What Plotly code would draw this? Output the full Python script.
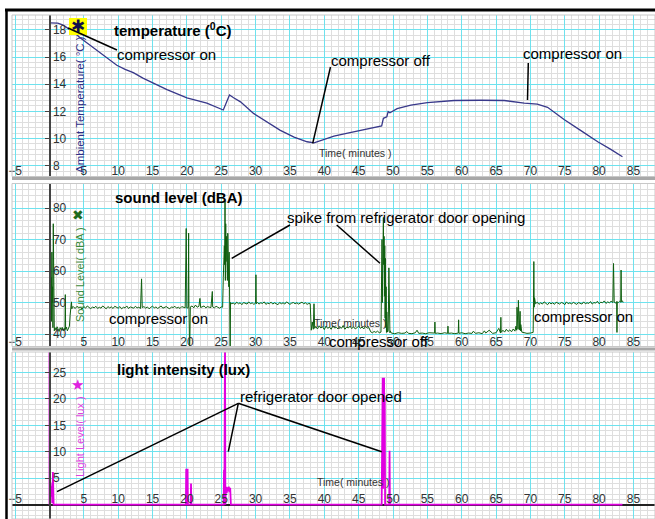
import plotly.graph_objects as go

W, H = 655, 519

# ---------------- data ----------------
temp_time = [0, 1.2, 2.0, 2.8, 3.6, 4.5, 6, 7.4, 8.6, 9.8,
             11, 12.2, 13.6, 15.1, 17.1, 20.0, 22.9, 25.3, 26.2, 26.8,
             27.8, 29.7, 31.7, 33.6, 35.6, 37.5, 38.5, 39.4, 41.4, 43.4,
             45.3, 47, 48.35, 48.6, 49.1, 49.3, 49.55, 50.6, 52.6, 55.0,
             58.9, 62.8, 66.2, 69.1, 71.0, 72.5, 74.9, 77.3, 79.8, 81.7,
             83.4]
temp_value = [18.52, 18.5, 18.35, 18.1, 17.8, 17.4, 16.85, 16.3, 15.85, 15.4,
              15.1, 14.85, 14.45, 14.07, 13.6, 13.0, 12.6, 12.1, 13.2, 13.0,
              12.7, 11.85, 11.23, 10.6, 10.1, 9.76, 9.68, 9.85, 10.18, 10.4,
              10.6, 10.8, 10.93, 11.49, 11.6, 11.98, 11.9, 12.2, 12.46, 12.64,
              12.8, 12.82, 12.8, 12.6, 12.54, 12.3, 11.4, 10.6, 9.76, 9.2,
              8.65]

sound_time_a = [0.00, 0.05, 0.10, 0.15, 0.20, 0.25, 0.30, 0.35, 0.40, 0.45,
                0.50, 0.55, 0.60, 0.65, 0.70, 0.80, 0.95, 1.10, 1.25, 1.40,
                1.55, 1.70, 1.85, 2.00, 2.15, 2.25, 2.30, 2.35, 2.45, 2.60,
                2.75, 2.90, 3.00, 3.10, 3.20, 3.25, 3.30]
sound_level_a = [45, 62, 47, 70, 52, 58, 44, 66, 50, 55,
                 42, 75, 45, 60, 41, 42, 41.2, 42.3, 41.5, 40.8,
                 42, 41.3, 42.1, 41, 41.8, 41.2, 52.5, 41.5, 42.2, 41,
                 41.8, 42.5, 46, 48.3, 50.2, 48, 48.6]

sound_time_b = [3.5, 3.75, 4.0, 4.25, 4.5, 4.75, 5.0, 5.25, 5.5, 5.75,
                6.0, 6.25, 6.5, 6.75, 7.0, 7.25, 7.5, 7.75, 8.0, 8.25,
                8.5, 8.75, 9.0, 9.25, 9.5, 9.75, 10.0, 10.25, 10.5, 10.75,
                11.0, 11.25, 11.5, 11.75, 12.0, 12.25, 12.5, 12.75, 13.0, 13.25,
                13.4, 13.5, 13.75, 14.0, 14.25, 14.5, 14.75, 15.0, 15.25, 15.5,
                15.75, 16.0, 16.25, 16.5, 16.75, 17.0, 17.25, 17.5, 17.75, 18.0,
                18.25, 18.5, 18.75, 19.0, 19.25, 19.5, 19.75, 19.9, 19.95, 20.0,
                20.2, 20.25, 20.3, 20.4, 20.5, 20.75, 21.0, 21.25, 21.5, 21.75,
                21.9, 22.0, 22.25, 22.5, 22.75, 23.0, 23.25, 23.5, 23.7, 23.75,
                24.0, 24.25, 24.5, 24.75, 25.0]
sound_level_b = [48.6, 48.1, 48.8, 48.3, 48.5, 47.9, 48.7, 48.2, 48.9, 48.4,
                 48.0, 48.6, 48.3, 48.8, 48.1, 48.5, 48.2, 48.9, 48.4, 48.0,
                 48.7, 48.3, 48.6, 48.1, 48.8, 48.4, 48.2, 48.7, 48.0, 48.5,
                 48.3, 48.9, 48.1, 48.6, 48.4, 48.2, 48.8, 48.3, 48.5, 48.1,
                 57.5, 48.4, 48.7, 48.2, 48.6, 48.0, 48.5, 48.8, 48.3, 48.6,
                 48.1, 48.4, 48.9, 48.2, 48.5, 48.7, 48.3, 48.0, 48.6, 48.4,
                 48.8, 48.2, 48.5, 48.1, 48.7, 48.4, 48.3, 73.5, 48.6, 48.2,
                 48.4, 72.0, 48.3, 34.0, 48.6, 48.9, 48.3, 49.2, 48.5, 48.8,
                 51.3, 48.4, 48.6, 48.9, 48.3, 48.7, 48.5, 48.4, 53.5, 48.6,
                 48.3, 48.8, 48.5, 48.2, 48.6]

sound_time_c = [25.2, 25.3, 25.35, 25.4, 25.45, 25.5, 25.55, 25.6, 25.65, 25.7,
                25.75, 25.8, 25.85, 25.9, 25.95, 26.0, 26.05, 26.1, 26.15, 26.2,
                26.25, 26.3, 26.35, 26.45]
sound_level_c = [48.5, 58, 64, 60, 68, 62, 82, 57, 75, 63,
                 71, 60, 70, 57, 72, 61, 69, 55, 66, 52,
                 60, 34, 50, 49.6]

sound_time_d = [26.75, 27.0, 27.25, 27.5, 27.75, 28.0, 28.25, 28.5, 28.75, 29.0,
                29.25, 29.5, 29.75, 30.0, 30.05, 30.1, 30.25, 30.5, 30.75, 31.0,
                31.25, 31.5, 31.75, 32.0, 32.25, 32.5, 32.75, 33.0, 33.25, 33.5,
                33.75, 34.0, 34.25, 34.5, 34.75, 35.0, 35.25, 35.5, 35.75, 36.0,
                36.25, 36.5, 36.75, 37.0, 37.25, 37.5, 37.75, 37.95]
sound_level_d = [49.8, 49.4, 50.1, 49.6, 49.9, 49.3, 50.0, 49.7, 49.5, 50.2,
                 49.6, 49.9, 49.4, 49.8, 58.8, 49.6, 50.0, 49.5, 49.9, 49.7,
                 50.2, 49.4, 49.8, 49.6, 50.1, 49.5, 49.9, 49.7, 49.3, 50.0,
                 49.6, 49.9, 49.5, 50.2, 49.7, 49.4, 49.8, 50.0, 49.6, 49.9,
                 49.5, 49.8, 50.1, 49.6, 49.9, 49.4, 49.7, 49.6]

sound_time_e = [38.0, 38.1, 38.25, 38.4, 38.5, 38.6, 38.75,
                39.0, 39.25, 39.5, 39.75, 40.0, 40.25, 40.5, 40.75, 41.0, 41.25,
                41.5, 41.75, 42.0, 42.25, 42.5, 42.75, 43.0, 43.25, 43.5, 43.75,
                44.0, 44.25, 44.5, 44.75, 45.0, 45.25, 45.5, 45.75, 46.0, 46.25,
                46.5, 46.75, 47.0, 47.25, 47.5, 47.75, 48.0, 48.25]
sound_level_e = [42.0, 41.2, 43.8, 41.5, 49.6, 41.8, 42.4,
                 41.6, 42.6, 41.9, 42.3, 41.4, 42.5, 41.8, 42.2, 41.5, 42.6,
                 41.9, 42.1, 41.6, 42.4, 41.8, 42.7, 41.5, 42.2, 41.9, 42.5,
                 41.7, 42.3, 41.6, 42.0, 42.5, 41.8, 42.2, 41.6, 42.4, 41.9,
                 42.0, 40.7, 40.4, 40.8, 40.5, 40.9, 40.4, 40.6]

sound_time_f = [48.35, 48.4, 48.45, 48.5, 48.55, 48.6, 48.65, 48.7, 48.75, 48.8,
                48.85, 48.9, 48.95, 49.0, 49.05, 49.1, 49.2, 49.3, 49.4, 49.45,
                49.5, 49.55, 49.6]
sound_level_f = [55, 70, 50, 73, 60, 77, 62, 71, 52, 68,
                 45, 64, 42, 55, 40.5, 47, 40.6, 41, 61, 40.5,
                 55, 40.4, 41]

sound_time_g = [49.75, 50.25, 50.75, 51.25, 51.75, 52.0, 52.25, 52.75, 53.25, 53.5,
                53.75, 54.25, 54.75, 55.25, 55.75, 56.05, 56.1, 56.15, 56.5, 57.0,
                57.5, 57.95, 58.0, 58.05, 58.5, 59.0, 59.5, 59.55, 59.6, 60.0,
                60.5, 61.0, 61.5, 61.7, 62.0, 62.5, 63.0, 63.3, 63.5, 64.0,
                64.5, 65.0, 65.4, 65.65, 65.7, 65.75, 66.0, 66.25, 66.5, 66.75,
                67.0, 67.25, 67.5, 67.75, 67.9, 68.0, 68.05, 68.1, 68.15, 68.2,
                68.25, 68.3, 68.35, 68.4, 68.5, 68.55, 68.6, 68.75, 69.0, 69.5,
                70.0, 70.4]
sound_level_g = [40.3, 40.1, 40.4, 40.2, 40.3, 40.8, 40.2, 40.1, 40.4, 41.2,
                 40.2, 40.3, 40.1, 40.4, 40.2, 40.3, 43.8, 40.2, 40.3, 40.1,
                 40.4, 40.2, 42.5, 40.2, 40.3, 40.1, 40.3, 44.5, 40.2, 40.4,
                 40.1, 40.3, 40.2, 40.9, 40.2, 40.4, 40.1, 41.0, 40.3, 41.2,
                 40.2, 40.4, 41.8, 40.3, 45.3, 40.5, 41.2, 40.6, 41.5, 40.8,
                 41.3, 40.7, 41.6, 40.9, 42.5, 41.2, 48.5, 42.0, 44.5, 41.5,
                 50.7, 42.2, 46.8, 41.3, 47.2, 41.0, 43.0, 40.6, 40.4, 40.2,
                 40.3, 40.5]

sound_time_h = [70.45, 70.5, 70.55, 70.6,
                70.75, 71.0, 71.25, 71.5, 71.75, 72.0, 72.25, 72.5, 72.75, 73.0,
                73.25, 73.5, 73.75, 74.0, 74.25, 74.5, 74.75, 75.0, 75.25, 75.5,
                75.75, 76.0, 76.25, 76.5, 76.75, 77.0, 77.25, 77.5, 77.75, 78.0,
                78.25, 78.5, 78.75, 79.0, 79.25, 79.5, 79.75, 80.0, 80.25, 80.5,
                80.75, 81.0, 81.25, 81.5, 81.75, 82.0,
                82.1, 82.2, 82.4, 82.55, 82.6, 82.65, 82.8, 83.0, 83.15, 83.2,
                83.25, 83.4, 83.5]
sound_level_h = [50.0, 63.0, 48.5, 51.5,
                 49.6, 50.1, 49.4, 49.9, 49.5, 50.2, 49.7, 49.3, 50.0, 49.6,
                 49.9, 49.4, 50.1, 49.7, 49.5, 50.0, 49.8, 49.3, 50.2, 49.6,
                 49.9, 49.5, 50.1, 49.7, 49.4, 50.0, 49.8, 49.5, 50.2, 49.6,
                 49.9, 49.7, 50.3, 49.5, 50.0, 49.8, 50.4, 49.6, 50.1, 49.9,
                 50.5, 49.7, 50.2, 49.9, 50.4, 50.0,
                 62.4, 50.1, 49.8, 50.3, 40.5, 50.2, 50.0, 50.4, 50.1, 60.3,
                 50.2, 50.5, 50.0]

sound_time = (sound_time_a + sound_time_b + sound_time_c + sound_time_d +
              sound_time_e + sound_time_f + sound_time_g + sound_time_h)
sound_level = (sound_level_a + sound_level_b + sound_level_c + sound_level_d +
               sound_level_e + sound_level_f + sound_level_g + sound_level_h)

light_time = [0.0, 0.0, 0.05, 0.1, 0.15, 0.2, 0.25, 0.3, 0.35, 0.4,
              0.45, 0.5, 0.55, 0.6, 19.85, 19.9, 19.95, 20.05, 20.1, 20.15,
              20.55, 20.6, 20.65, 25.35, 25.4, 25.45, 25.55, 25.6, 25.65, 25.75,
              25.8, 25.9, 26.0, 26.1, 26.2, 26.3, 26.35, 26.4, 48.35, 48.4,
              48.45, 48.5, 48.55, 48.6, 48.65, 48.7, 48.75, 48.8, 48.85, 49.45,
              49.5, 49.55, 83.4]
light_lux = [0, 32, 4.5, 3.2, 4.2, 2.5, 3.8, 1.5, 3.5, 0.3,
             0.8, 6.2, 0.5, 0, 0, 6.8, 0, 0, 6.8, 0,
             0, 4, 0, 0, 6.6, 0, 32, 0, 2.5, 3.4,
             2.2, 3.3, 2.6, 3.4, 2.4, 3.2, 0.5, 0, 0, 14,
             0, 24, 3, 23.5, 6, 24, 9, 20, 0, 0,
             10.2, 0, 0]

x_tick_values = [-5, 5, 10, 15, 20, 25, 30, 35, 40, 45, 50, 55, 60, 65, 70, 75, 80, 85]
temp_tick_values = [8, 10, 12, 14, 16, 18]
sound_tick_values = [40, 50, 60, 70, 80]
light_tick_values = [5, 10, 15, 20, 25]

# ---------------- layout helpers (pixel -> paper) ----------------
def PX(x):
    return x / W


def PY(y):
    return 1 - y / H


PLOT_LEFT = 12
x_dom = [PX(PLOT_LEFT), 1.0]
x_range = [(PLOT_LEFT - 49.5) / 6.87, (655 - 49.5) / 6.87]
y_axis_pos = x_dom[0] + (0 - x_range[0]) / (x_range[1] - x_range[0]) * (x_dom[1] - x_dom[0])

CYAN = '#6ee2ee'
MINOR = '#dedede'
TICKFONT = dict(family='Liberation Sans, Arial, sans-serif', size=12, color='#333333')

fig = go.Figure()
fig.add_trace(go.Scatter(x=temp_time, y=temp_value, mode='lines',
                         line=dict(color='#38388a', width=1.3), xaxis='x', yaxis='y'))
fig.add_trace(go.Scatter(x=sound_time, y=sound_level, mode='lines',
                         line=dict(color='#0f5f0f', width=1), xaxis='x2', yaxis='y2'))
fig.add_trace(go.Scatter(x=light_time, y=light_lux, mode='lines',
                         line=dict(color='#e000e0', width=1.8), xaxis='x3', yaxis='y3'))


def xaxis_def(pos_px):
    # axis placed at a pixel row, labels drawn just above it (side='top')
    return dict(domain=x_dom, range=x_range, anchor='free', position=PY(pos_px), side='top',
                automargin=False,
                tickmode='array', tickvals=x_tick_values, ticks='',
                showgrid=True, gridcolor=CYAN, gridwidth=1.3,
                minor=dict(dtick=1, tick0=0, showgrid=True, gridcolor=MINOR, gridwidth=1),
                zeroline=False, showline=False, tickfont=TICKFONT)


def yaxis_def(top, bottom, rng, ticks, minor, zero=False):
    return dict(domain=[PY(bottom), PY(top)], range=rng, anchor='free', position=y_axis_pos,
                side='right', automargin=False, tickmode='array', tickvals=ticks,
                ticks='inside', ticklen=4, tickcolor='#444444',
                showline=True, linecolor='#444444', linewidth=2,
                showgrid=True, gridcolor=CYAN, gridwidth=1.3,
                minor=dict(dtick=minor, tick0=0, showgrid=True, gridcolor=MINOR, gridwidth=1),
                zeroline=zero, zerolinecolor='#222222', zerolinewidth=2,
                tickfont=TICKFONT)


fig.update_layout(
    width=W, height=H, autosize=False,
    margin=dict(l=0, r=0, t=0, b=0, pad=0, autoexpand=False),
    paper_bgcolor='white', plot_bgcolor='white', showlegend=False,
    xaxis=xaxis_def(177),
    xaxis2=xaxis_def(348),
    xaxis3=xaxis_def(505.5),
    yaxis=yaxis_def(15, 176.5, [7.2, 19.1], temp_tick_values, 0.4),
    yaxis2=yaxis_def(183.5, 346.5, [36.03, 87.78], sound_tick_values, 2),
    yaxis3=yaxis_def(352, 519, [-2.70, 28.87], light_tick_values, 1, zero=True),
)

shapes = []


def pline(x0, y0, x1, y1, color='black', width=1.5):
    shapes.append(dict(type='line', xref='paper', yref='paper',
                       x0=PX(x0), y0=PY(y0), x1=PX(x1), y1=PY(y1),
                       line=dict(color=color, width=width)))


# frame and separators
for top, bottom in [(15, 176.5), (183.5, 346.5), (352, 519)]:
    shapes.append(dict(type='rect', xref='paper', yref='paper', x0=PX(12), x1=1,
                       y0=PY(bottom), y1=PY(top), line=dict(color='#c8c8c8', width=1)))
pline(12, 178.5, 655, 178.5, '#a8a8a8', 3)
pline(12, 349, 655, 349, '#a8a8a8', 3)
pline(5, 10, 655, 10, 'black', 3)
pline(6.5, 9, 6.5, 519, 'black', 2.5)
# yellow legend box
shapes.append(dict(type='rect', xref='paper', yref='paper', x0=PX(69), x1=PX(87),
                   y0=PY(35), y1=PY(18), fillcolor='#ffff00', line=dict(width=0)))
# callout lines
pline(68, 28, 117, 50)
pline(312.7, 143.3, 330.5, 67)
pline(528.3, 63, 527.5, 100)
pline(290, 225, 231.7, 258.3)
pline(336.7, 225, 380, 263.3)
pline(238.3, 403.3, 57, 491.7)
pline(238.3, 403.3, 228.3, 451.7)
pline(238.3, 403.3, 381.7, 451.7)
fig.update_layout(shapes=shapes)

FONT = 'Liberation Sans, Arial, sans-serif'
ann = []


def text(x, y, s, size=15, color='black', anchor='left', angle=0):
    ann.append(dict(xref='paper', yref='paper', x=PX(x), y=PY(y), text=s, showarrow=False,
                    xanchor=anchor, yanchor='middle', textangle=angle,
                    font=dict(family=FONT, size=size, color=color)))


text(112, 30, '<b>temperature (<sup>0</sup>C)</b>', 15)
text(113, 197, '<b>sound level (dBA)</b>', 15)
text(115, 369, '<b>light intensity (lux)</b>', 15)
text(115, 54, 'compressor on', 15)
text(329, 61, 'compressor off', 15)
text(521, 53, 'compressor on', 15)
text(285, 217, 'spike from refrigerator door opening', 15)
text(107, 318, 'compressor on', 15)
text(327, 341, 'compressor off', 15)
text(532, 316, 'compressor on', 15)
text(238, 396, 'refrigerator door opened', 15)
text(80, 105, 'Ambient Temperature( °C )', 11.5, '#2f2f86', 'center', -90)
text(80, 275, 'Sound Level( dBA )', 11, '#3c8c3c', 'center', -90)
text(80, 437, 'Light Level( lux )', 11, '#e040e0', 'center', -90)
text(355, 153, 'Time( minutes )', 10.5, '#333333', 'center')
text(350, 323, 'Time( minutes )', 10.5, '#333333', 'center')
text(354, 482, 'Time( minutes )', 10.5, '#333333', 'center')
text(78, 26.5, '✱', 17, '#10104a', 'center')
text(78.3, 215, '✖', 14, '#1e6b1e', 'center')
text(77.3, 384, '★', 15, '#e020e0', 'center')
fig.update_layout(annotations=ann)

fig.write_html('out.html', config={'displayModeBar': False, 'responsive': False},
               post_script="document.body.style.margin='0px';document.body.style.padding='0px';")
